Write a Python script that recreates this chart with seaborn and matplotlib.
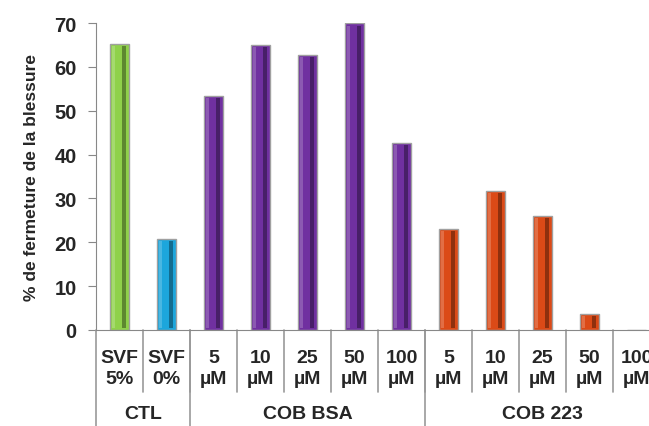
import matplotlib
matplotlib.use("Agg")
import matplotlib.pyplot as plt
import matplotlib.transforms as mtransforms
import seaborn as sns
import pandas as pd

# data
labels = ["SVF\n5%", "SVF\n0%", "5\nµM", "10\nµM", "25\nµM", "50\nµM", "100\nµM",
          "5\nµM ", "10\nµM ", "25\nµM ", "50\nµM ", "100\nµM "]
values = [65.3, 20.7, 53.3, 65.0, 62.8, 69.9, 42.6, 23.0, 31.7, 26.1, 3.7, 0.0]
groups = ["CTL", "COB BSA", "COB 223"]
group_sizes = [2, 5, 5]
colors = ["#8fd14a", "#1ca6dc", "#7030a0", "#7030a0", "#7030a0", "#7030a0", "#7030a0",
          "#db4a17", "#db4a17", "#db4a17", "#db4a17", "#db4a17"]

df = pd.DataFrame({"label": labels, "value": values})

sns.set_style("white")
plt.rcParams["font.family"] = ["Liberation Sans", "DejaVu Sans"]

fig = plt.figure(figsize=(6.49, 4.27), dpi=100)
ax = fig.add_axes([96 / 649, 96 / 427, 564 / 649, 307 / 427])

sns.barplot(data=df, x="label", y="value", hue="label", palette=colors, saturation=1,
            width=0.4, edgecolor="#a0a0a0", linewidth=1.0, legend=False, ax=ax)

# bevel look: light strip left, dark strip right
for p in list(ax.patches):
    x0, w, h = p.get_x(), p.get_width(), p.get_height()
    if h <= 0:
        continue
    ax.bar(x0 + w * 0.64, h - 0.9, width=w * 0.22, bottom=0.4, align="edge",
           color="black", alpha=0.35, linewidth=0)
    ax.bar(x0 + w * 0.08, h - 0.9, width=w * 0.16, bottom=0.4, align="edge",
           color="white", alpha=0.2, linewidth=0)

ax.set_xlim(-0.5, 11.5)
ax.set_ylim(0, 70)
ax.set_yticks(range(0, 71, 10))
ax.tick_params(axis="y", labelsize=14.5, length=6, color="#888888", direction="out",
               left=True, pad=8)
for t in ax.get_yticklabels():
    t.set_fontweight("bold")
ax.set_xticks([])
ax.set_xlabel("")
ax.set_ylabel("% de fermeture de la blessure", fontsize=12.5, fontweight="bold", labelpad=11)

for s in ["top", "right"]:
    ax.spines[s].set_visible(False)
ax.spines["left"].set_color("#888888")
ax.spines["bottom"].set_color("#888888")

trans = mtransforms.blended_transform_factory(ax.transData, ax.transAxes)

# category labels
for i, lab in enumerate(labels):
    ax.text(i, -0.124, lab.strip(), transform=trans, ha="center", va="center",
            fontsize=14, fontweight="bold", linespacing=1.3)

# separators
for i in range(len(labels)):
    ax.plot([i + 0.5, i + 0.5], [0, -0.202], transform=trans, color="#999999",
            lw=1.2, clip_on=False)
pos = -0.5
bounds = [pos]
for n in group_sizes:
    pos += n
    bounds.append(pos)
for b in bounds:
    ax.plot([b, b], [0, -0.32], transform=trans, color="#999999", lw=1.2, clip_on=False)

# group labels
for g, a, b in zip(groups, bounds[:-1], bounds[1:]):
    ax.text((a + b) / 2, -0.272, g, transform=trans, ha="center", va="center",
            fontsize=14, fontweight="bold")

fig.savefig("out.png", dpi=100)
